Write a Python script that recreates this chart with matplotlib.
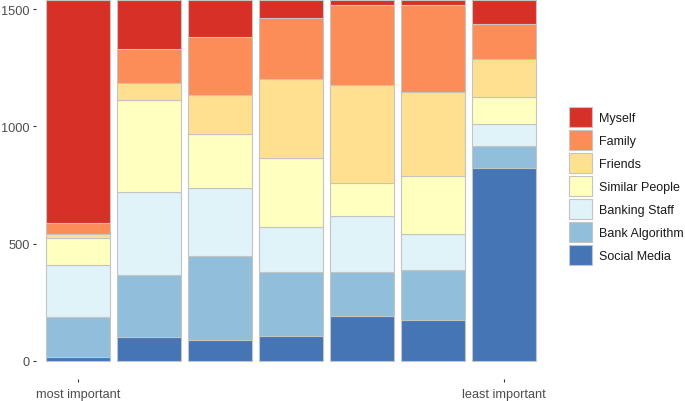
import numpy as np
import matplotlib
matplotlib.use("Agg")
import matplotlib.pyplot as plt

plt.rcParams['font.family'] = ['Liberation Sans', 'DejaVu Sans']

# rank position 1 (most important) .. 7 (least important)
ranks = [1, 2, 3, 4, 5, 6, 7]
rank_labels = ['most important', '', '', '', '', '', 'least important']

# counts per category, bottom of stack first
social_media = [17, 104, 91, 108, 191, 173, 821]
bank_algorithm = [171, 261, 357, 271, 190, 214, 94]
banking_staff = [220, 354, 288, 192, 235, 153, 93]
similar_people = [118, 394, 230, 294, 143, 249, 117]
friends = [17, 74, 168, 335, 419, 359, 164]
family = [43, 143, 247, 260, 338, 368, 149]
myself = [952, 208, 157, 78, 22, 22, 100]

series = [
    ('Social Media', social_media, '#4575B4'),
    ('Bank Algorithm', bank_algorithm, '#91BFDB'),
    ('Banking Staff', banking_staff, '#E0F3F8'),
    ('Similar People', similar_people, '#FFFFBF'),
    ('Friends', friends, '#FEE090'),
    ('Family', family, '#FC8D59'),
    ('Myself', myself, '#D73027'),
]

fig = plt.figure(figsize=(6.85, 4.02), dpi=100)
ax = fig.add_axes([35.5 / 685, 22 / 402, (546.6 - 35.5) / 685, 380 / 402])

x = np.array(ranks)
bottom = np.zeros(len(x))
handles = []
for name, vals, col in series:
    b = ax.bar(x, vals, bottom=bottom, width=0.9, color=col,
               edgecolor='#C4C4C4', linewidth=0.8, label=name)
    handles.append(b)
    bottom += np.array(vals)

ax.set_xlim(0.4, 7.6)
ax.set_ylim(-77, 1543)
for s in ax.spines.values():
    s.set_visible(False)

ax.set_yticks([0, 500, 1000, 1500])
ax.set_xticks([1, 7])
ax.set_xticklabels([rank_labels[0], rank_labels[6]])
ax.tick_params(axis='both', length=2.2, width=0.8, color='#333333',
               labelcolor='#4D4D4D', labelsize=9.2, pad=2)
ax.tick_params(axis='x', pad=4.5)

leg = fig.legend(handles[::-1], [s[0] for s in series][::-1],
                 loc='center left', bbox_to_anchor=(569 / 685, 1 - 187 / 402),
                 frameon=False, fontsize=9, handlelength=1.85, handleheight=2.1,
                 labelspacing=0.24, handletextpad=0.55, borderpad=0,
                 borderaxespad=0)
for t in leg.get_texts():
    t.set_color('#1A1A1A')

fig.savefig('out.png', dpi=100)
